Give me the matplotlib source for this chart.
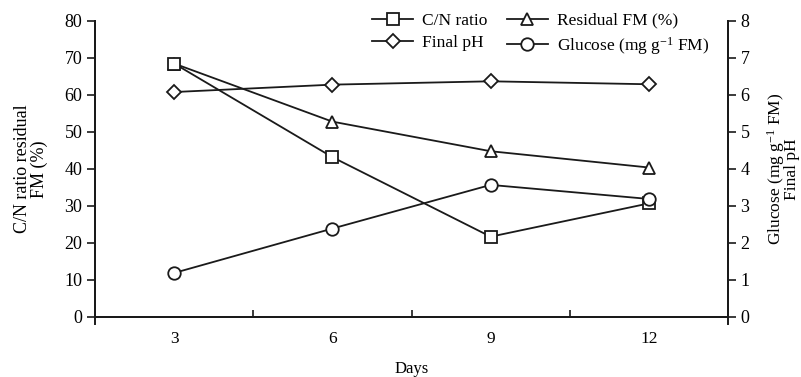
import matplotlib
matplotlib.use("Agg")
import matplotlib.pyplot as plt
from matplotlib.ticker import FixedLocator

plt.rcParams["font.family"] = ["Liberation Serif", "DejaVu Serif"]
plt.rcParams["mathtext.fontset"] = "custom"
plt.rcParams["mathtext.rm"] = "Liberation Serif"
plt.rcParams["mathtext.it"] = "Liberation Serif:italic"

days = [3, 6, 9, 12]
cn_ratio = [68.5, 43.2, 21.7, 30.7]
residual_fm = [68.5, 52.8, 44.8, 40.4]
final_ph = [6.08, 6.28, 6.37, 6.29]
glucose = [1.19, 2.39, 3.57, 3.19]

fig = plt.figure(figsize=(8.01, 3.77), dpi=100)
ax = fig.add_axes([0.1186, 0.1592, 0.7903, 0.7851])
ax2 = ax.twinx()

style = dict(color="#1a1a1a", lw=1.3, markersize=9, markerfacecolor="white",
             markeredgecolor="#1a1a1a", markeredgewidth=1.3, clip_on=False)

l_res, = ax.plot(days, residual_fm, marker="^", label="Residual FM (%)", **style)
l_cn, = ax.plot(days, cn_ratio, marker="s", label="C/N ratio", **style)
l_ph, = ax2.plot(days, final_ph, marker="D", label="Final pH", **{**style, "markersize": 7})
l_glu, = ax2.plot(days, glucose, marker="o", label="Glucose (mg g$^{-1}$ FM)", **style)

ax.set_xlim(1.5, 13.5)
ax.set_ylim(0, 80)
ax2.set_ylim(0, 8)
ax.set_yticks(range(0, 81, 10))
ax2.set_yticks(range(0, 9))
ax.set_xticks(days)
ax.xaxis.set_minor_locator(FixedLocator([4.5, 7.5, 10.5]))
ax.tick_params(axis="x", which="major", length=0, pad=10, labelsize=12.5)
ax.tick_params(axis="x", which="minor", direction="in", length=5, width=1.2, color="#1a1a1a")
ax.tick_params(axis="y", direction="out", length=6, width=1.2, labelsize=13, color="#1a1a1a", pad=3)
ax2.tick_params(axis="y", direction="out", length=6, width=1.2, labelsize=13, color="#1a1a1a", pad=3)

for a in (ax, ax2):
    a.spines["top"].set_visible(False)
    for s in ("left", "right", "bottom"):
        a.spines[s].set_linewidth(1.4)
        a.spines[s].set_color("#1a1a1a")
ax.spines["left"].set_bounds(-1.8, 80)
ax2.spines["right"].set_bounds(-0.18, 8)

ax.set_xlabel("Days", fontsize=12, labelpad=10)
ax.set_ylabel("C/N ratio residual\nFM (%)", fontsize=13, labelpad=12, linespacing=0.95)
ax2.set_ylabel("Glucose (mg g$^{-1}$ FM)\nFinal pH", fontsize=12.5, labelpad=11,
               rotation=90, linespacing=0.8)

ax2.legend([l_cn, l_ph, l_res, l_glu],
           ["C/N ratio", "Final pH", "Residual FM (%)", "Glucose (mg g$^{-1}$ FM)"],
           ncol=2, frameon=False, prop={"family": "Liberation Serif", "size": 12.5},
           loc="upper left", bbox_to_anchor=(0.418, 1.07), handlelength=2.4,
           handletextpad=0.5, columnspacing=1.1, labelspacing=0.35, borderpad=0.2)

fig.savefig("out.png", dpi=100)
